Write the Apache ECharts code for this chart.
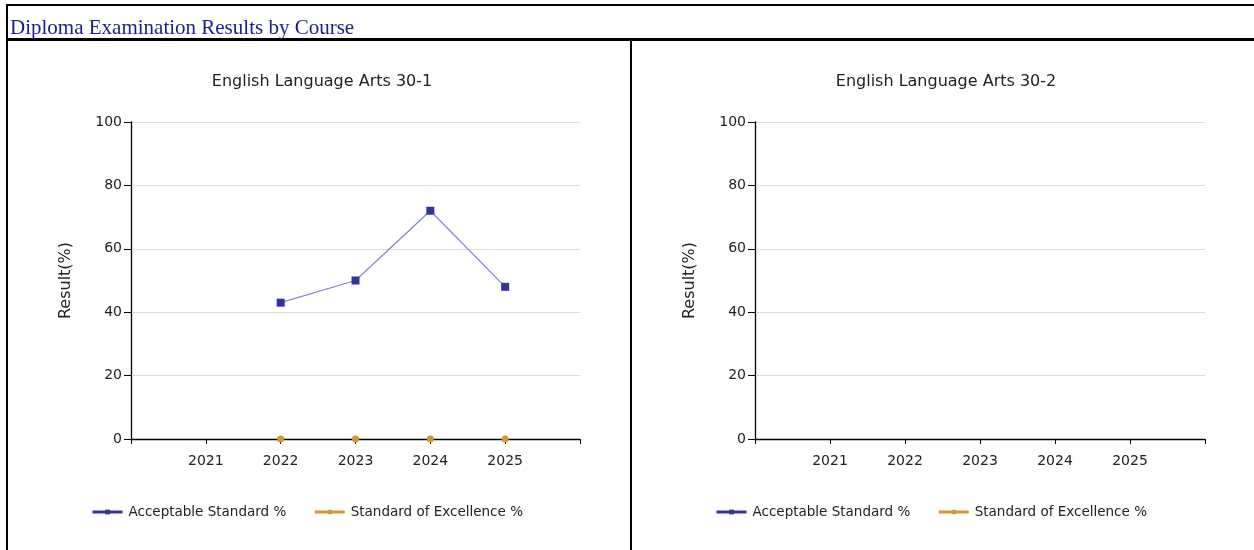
<!DOCTYPE html>
<html>
<head>
<meta charset="utf-8">
<script src="https://cdn.jsdelivr.net/npm/echarts@6/dist/echarts.min.js"></script>
<style>
  html, body { margin: 0; padding: 0; background: #fff; width: 1254px; height: 550px; overflow: hidden; }
  #chart { position: absolute; left: 0; top: 0; width: 1254px; height: 550px; }
  .ln { position: absolute; background: #000; pointer-events: none; }
  #hdr { position: absolute; left: 10px; top: 16px; font-family: "Liberation Serif", "Times New Roman", serif; font-size: 21px; line-height: 22px; color: #1c1c8c; white-space: nowrap; }
</style>
</head>
<body>
<div id="chart"></div>
<div class="ln" style="left:6px;top:4px;width:1248px;height:2px;"></div>
<div class="ln" style="left:6px;top:4px;width:2px;height:546px;"></div>
<div class="ln" style="left:6px;top:38px;width:1248px;height:3px;"></div>
<div class="ln" style="left:630px;top:40px;width:2px;height:510px;"></div>
<div id="hdr">Diploma Examination Results by Course</div>
<script>
// ---- data ----
const pageTitle = "Diploma Examination Results by Course";
const chartTitles = ["English Language Arts 30-1", "English Language Arts 30-2"];
const years = ["2021", "2022", "2023", "2024", "2025"];
const seriesNames = ["Acceptable Standard %", "Standard of Excellence %"];
const ela301Acceptable = [null, 43, 50, 72, 48];
const ela301Excellence = [null, 0, 0, 0, 0];
const ela302Acceptable = [null, null, null, null, null];
const ela302Excellence = [null, null, null, null, null];
const yTicks = [0, 20, 40, 60, 80, 100];
const yAxisName = "Result(%)";

// ---- build ----
const axisCats = [""].concat(years, [""]);
const pad = arr => [null].concat(arr, [null]);
const FONT = "DejaVu Sans";
const TXT = "#222";
const ACC = "#333399", ACC_LINE = "#8585c9", EXC = "#cc9933";
const seriesColors = [ACC, EXC];

const grids = [
  { left: 131, right: 674, top: 122, bottom: 111 },
  { left: 755, right: 49, top: 122, bottom: 111 }
];
const titleCenters = [317, 941];
const legendLefts = [91, 715];

const chart = echarts.init(document.getElementById('chart'), null, { renderer: 'canvas' });

const option = {
  animation: false,
  backgroundColor: 'transparent',
  title: chartTitles.map((t, i) => ({
    text: t, left: titleCenters[i], top: 69, textAlign: 'center',
    textStyle: { fontFamily: FONT, fontSize: 16, fontWeight: 'normal', color: TXT }
  })),
  legend: legendLefts.map(l => ({
    data: seriesNames.map((n, k) => ({
      name: n,
      itemStyle: { color: seriesColors[k] },
      lineStyle: { color: seriesColors[k], width: 3 }
    })),
    left: l, top: 505, padding: 0, itemWidth: 30, itemHeight: 6, itemGap: 27,
    textStyle: { fontFamily: FONT, fontSize: 13.5, color: TXT, padding: [0, 0, 0, 1] }
  })),
  grid: grids,
  xAxis: grids.map((g, i) => ({
    type: 'category', gridIndex: i, data: axisCats, boundaryGap: false,
    axisLine: { lineStyle: { color: '#000', width: 1.3 } },
    axisTick: { show: true, length: 5, lineStyle: { color: '#000' }, interval: 0 },
    axisLabel: { interval: 0, margin: 15, fontFamily: FONT, fontSize: 14, color: TXT },
    splitLine: { show: false }
  })),
  yAxis: grids.map((g, i) => ({
    type: 'value', gridIndex: i, min: yTicks[0], max: yTicks[yTicks.length - 1], interval: 20,
    name: yAxisName, nameLocation: 'middle', nameGap: 57, nameRotate: 90,
    nameTextStyle: { fontFamily: FONT, fontSize: 16, color: TXT },
    axisLine: { show: true, lineStyle: { color: '#000', width: 1.3 } },
    axisTick: { show: true, length: 7, lineStyle: { color: '#000' } },
    axisLabel: { margin: 9, fontFamily: FONT, fontSize: 14, color: TXT },
    splitLine: { show: true, lineStyle: { color: '#dcdcdc', width: 1 } }
  })),
  series: [
    { name: seriesNames[0], type: 'line', xAxisIndex: 0, yAxisIndex: 0, data: pad(ela301Acceptable),
      symbol: 'rect', symbolSize: 8, itemStyle: { color: ACC }, lineStyle: { color: ACC_LINE, width: 1.2 } },
    { name: seriesNames[1], type: 'line', xAxisIndex: 0, yAxisIndex: 0, data: pad(ela301Excellence),
      symbol: 'circle', symbolSize: 7, itemStyle: { color: EXC }, lineStyle: { width: 0 }, z: 3 },
    { name: seriesNames[0], type: 'line', xAxisIndex: 1, yAxisIndex: 1, data: pad(ela302Acceptable),
      symbol: 'rect', symbolSize: 8, itemStyle: { color: ACC }, lineStyle: { color: ACC_LINE, width: 1.2 } },
    { name: seriesNames[1], type: 'line', xAxisIndex: 1, yAxisIndex: 1, data: pad(ela302Excellence),
      symbol: 'circle', symbolSize: 7, itemStyle: { color: EXC }, lineStyle: { width: 0 } }
  ]
};
option.series.forEach(s => { s.emphasis = { disabled: true }; });
chart.setOption(option);
</script>
</body>
</html>
